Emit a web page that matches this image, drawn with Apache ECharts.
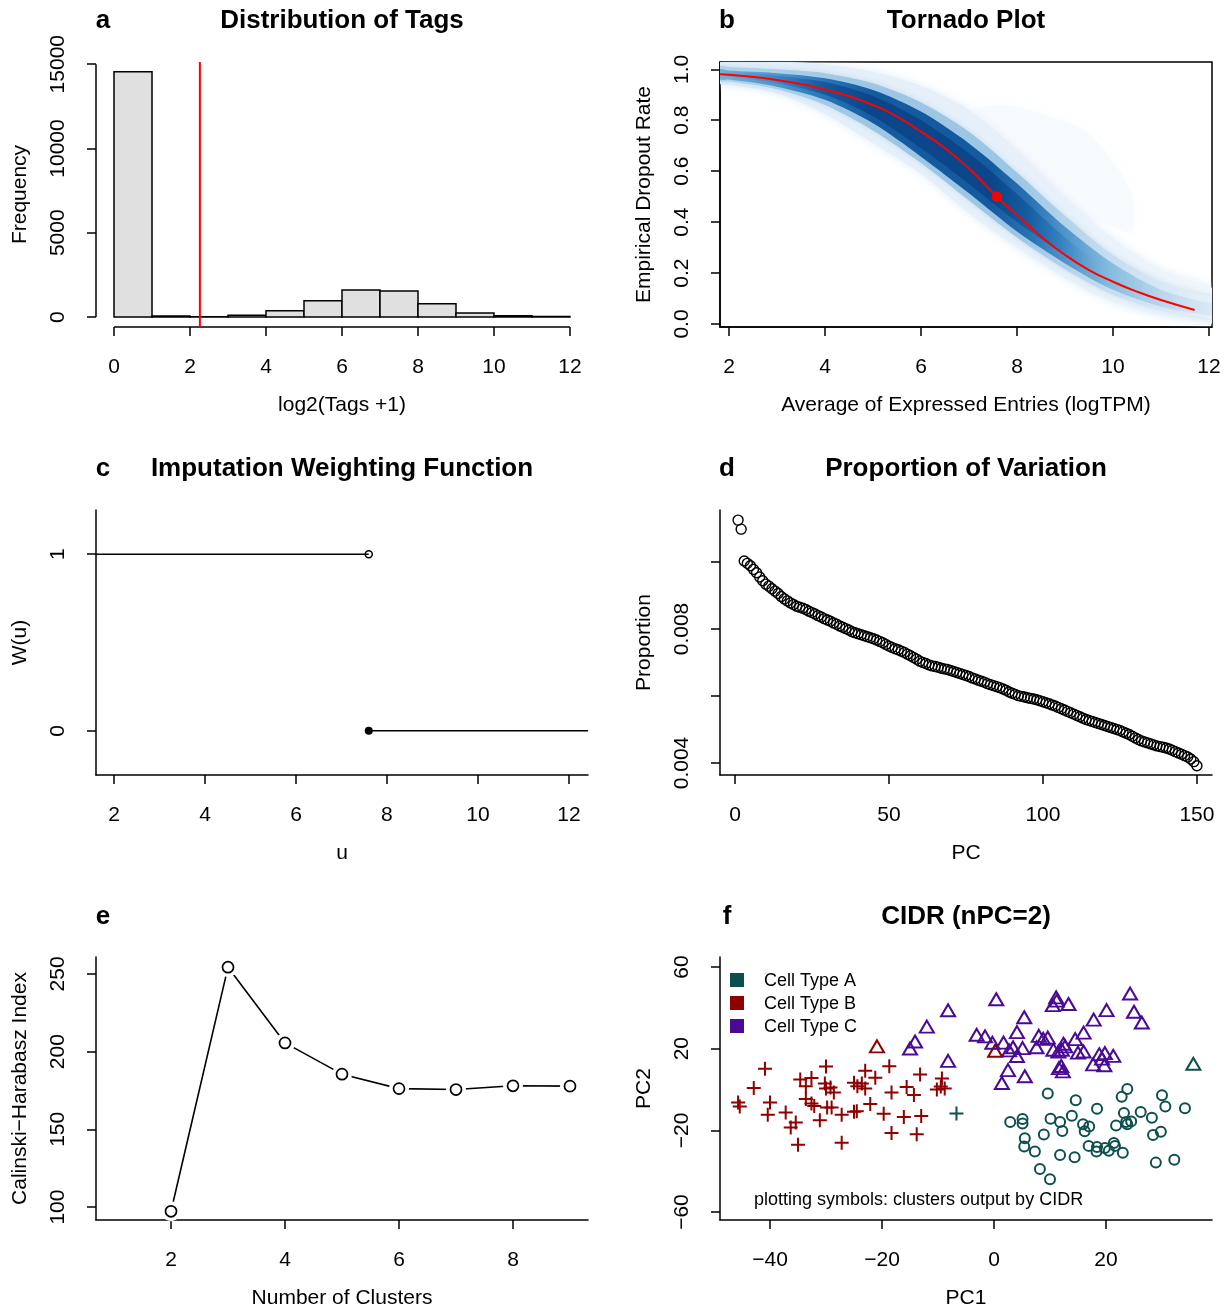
<!DOCTYPE html>
<html><head><meta charset="utf-8">
<script src="https://cdn.jsdelivr.net/npm/echarts@6/dist/echarts.min.js"></script>
<style>html,body{margin:0;padding:0;background:#fff}#c{width:1228px;height:1310px}</style>
</head><body><div id="c"></div>
<script>
// ---------- DATA ----------
// a: histogram of log2(Tags+1)
const histBinStart = [0,1,2,3,4,5,6,7,8,9,10,11];
const histCounts = [14556,60,20,100,370,960,1610,1540,790,240,80,30];
const tagThreshold = 2.26;

// b: tornado plot - fitted dropout curve
const dropCurveX = [1.81,2,3,4,5,5.5,6,6.5,7,7.58,8,8.5,9,9.5,10,10.5,11,11.7];
const dropCurveY = [0.981,0.979,0.958,0.921,0.86,0.814,0.755,0.69,0.611,0.5,0.428,0.343,0.271,0.212,0.166,0.127,0.094,0.055];
const dropMidX = 7.58, dropMidY = 0.5;
// b: density band contours
const bandX   = [1.81, 2,    3,    4,    5,    6,    7,    8,    9,    10,   11,   11.8, 12.06];
const outerHi = [1.03, 1.03, 1.03, 1.02, 0.99, 0.935,0.84, 0.685,0.50, 0.335,0.215,0.16, 0.14];
const outerLo = [0.945,0.939,0.905,0.825,0.71, 0.59, 0.435,0.30, 0.18, 0.085,0.032,0.008,0.003];
const midHi   = [1.012,1.009,1.0,  0.985,0.945,0.87, 0.755,0.595,0.425,0.27, 0.165,0.118,0.104];
const midLo   = [0.955,0.952,0.922,0.86, 0.76, 0.632,0.485,0.34, 0.215,0.115,0.055,0.028,0.022];
const coreHi  = [1.0,  0.995,0.985,0.965,0.919,0.834,0.709,0.552,0.382,0.238,0.134,0.09, 0.08];
const coreLo  = [0.96, 0.96, 0.932,0.88, 0.788,0.657,0.513,0.363,0.238,0.134,0.068,0.04, 0.035];
const innerHi = [0.995,0.99, 0.975,0.95, 0.895,0.80, 0.67, 0.51, 0.34, 0.20, 0.10, 0.065,0.06];
const innerLo = [0.97, 0.97, 0.945,0.90, 0.815,0.69, 0.55, 0.40, 0.27, 0.16, 0.085,0.05, 0.045];
const hazeX  = [7.0, 7.8, 8.6, 9.4, 10.0, 10.4];
const hazeHi = [0.84,0.86,0.82,0.76,0.64, 0.50];
const hazeLo = [0.80,0.62,0.50,0.42,0.38, 0.36];

// c: weighting function
const wThreshold = 7.6;
const wLeftX = [1.6, 7.6],  wLeftY = [1, 1];
const wRightX = [7.6, 12.42], wRightY = [0, 0];

// d: proportion of variation per PC
const pcProportion = [0.01125,0.01098,0.01003,0.00996,0.00989,0.00978,0.00968,0.00955,0.00944,0.00934,
0.00928,0.00920,0.00913,0.00906,0.00897,0.00890,0.00884,0.00878,0.00873,0.00868,
0.00865,0.00862,0.00858,0.00853,0.00849,0.00845,0.00840,0.00836,0.00831,0.00827,
0.00823,0.00818,0.00814,0.00809,0.00805,0.00801,0.00797,0.00792,0.00789,0.00786,
0.00783,0.00780,0.00777,0.00774,0.00771,0.00767,0.00763,0.00759,0.00754,0.00749,
0.00745,0.00741,0.00738,0.00734,0.00730,0.00725,0.00720,0.00715,0.00710,0.00704,
0.00700,0.00697,0.00693,0.00690,0.00688,0.00686,0.00683,0.00681,0.00679,0.00676,
0.00673,0.00670,0.00667,0.00664,0.00661,0.00658,0.00654,0.00651,0.00647,0.00644,
0.00641,0.00637,0.00634,0.00631,0.00628,0.00625,0.00621,0.00617,0.00612,0.00608,
0.00605,0.00601,0.00599,0.00597,0.00595,0.00593,0.00591,0.00589,0.00586,0.00583,
0.00580,0.00577,0.00573,0.00570,0.00566,0.00562,0.00558,0.00554,0.00550,0.00546,
0.00542,0.00538,0.00534,0.00530,0.00527,0.00524,0.00521,0.00518,0.00515,0.00512,
0.00509,0.00506,0.00503,0.00500,0.00497,0.00493,0.00489,0.00485,0.00480,0.00475,
0.00470,0.00466,0.00463,0.00460,0.00457,0.00454,0.00451,0.00449,0.00447,0.00445,
0.00442,0.00438,0.00434,0.00430,0.00426,0.00422,0.00418,0.00412,0.00404,0.00392];

// e: Calinski-Harabasz index
const nClusters = [2,3,4,5,6,7,8,9];
const chIndex = [97.3,254.3,205.6,185.5,176.2,175.6,178.0,177.8];

// f: CIDR PC1/PC2 by cell type (colour) and cluster (symbol)
const typeA_circle = [[9.6,-1.9],[14.6,-5.3],[18.4,-9.4],[23.8,0.2],[22.8,-3.6],[30.0,-2.8],[30.6,-8.3],[34.1,-9.2],[2.9,-15.9],[5.1,-14.4],[5.1,-16.7],[10.1,-14.3],[11.8,-15.9],[13.9,-12.8],[12.2,-20.3],[8.9,-22.0],[5.5,-23.9],[5.4,-27.9],[7.3,-30.3],[15.9,-17.0],[17.0,-18.1],[16.2,-20.4],[21.8,-17.6],[23.2,-11.5],[23.6,-15.9],[24.5,-15.6],[23.8,-17.0],[26.2,-11.0],[28.2,-13.8],[28.4,-22.3],[29.8,-20.7],[16.9,-27.6],[18.4,-28.2],[18.3,-30.4],[19.8,-28.6],[20.5,-30.0],[21.4,-26.2],[21.6,-27.6],[23.0,-31.0],[11.8,-32.1],[14.4,-33.2],[8.2,-38.9],[10.0,-44.0],[28.9,-35.8],[32.2,-34.4]];
const typeA_cross = [[-6.7,-11.7]];
const typeA_tri = [[35.6,12.6]];
const typeB_cross = [[-40.9,10.2],[-42.9,0.7],[-45.7,-6.3],[-45.4,-8.3],[-40.0,-6.3],[-40.4,-12.4],[-37.2,-11.2],[-36.3,-18.6],[-35.4,-16.2],[-35.0,-27.0],[-34.6,4.9],[-32.6,5.6],[-33.6,1.6],[-30.0,11.3],[-30.2,2.9],[-30.0,0.5],[-29.2,1.0],[-28.6,-1.5],[-33.6,-4.7],[-32.6,-6.8],[-32.1,-8.1],[-31.1,-15.1],[-29.8,-8.8],[-29.0,-8.8],[-27.2,-12.4],[-27.2,-26.1],[-23.0,9.2],[-21.2,5.8],[-25.0,3.3],[-24.4,1.6],[-23.6,2.9],[-23.0,0.5],[-24.5,-10.6],[-25.0,-10.9],[-22.1,-7.1],[-19.7,-11.9],[-18.7,11.4],[-18.3,-1.5],[-18.3,-21.3],[-16.1,-13.4],[-15.6,1.2],[-14.3,-2.7],[-13.2,7.3],[-13.0,-13.0],[-13.8,-21.9],[-10.2,0.0],[-9.3,5.4],[-8.8,0.5],[-9.5,1.5]];
const typeB_tri = [[-20.9,21.1],[0.2,19.0]];
const typeC_tri = [[-8.2,38.8],[-12.0,30.8],[-14.1,23.5],[-15.0,20.1],[-8.2,14.0],[-3.1,26.8],[-1.6,26.0],[-0.3,22.9],[0.4,44.2],[1.7,23.0],[2.7,19.2],[3.4,20.7],[4.1,28.1],[5.4,35.4],[4.1,16.4],[5.1,20.3],[2.5,9.5],[1.4,3.2],[5.5,6.5],[7.6,20.7],[8.0,26.3],[8.8,24.8],[9.6,25.4],[11.1,45.1],[11.2,43.5],[10.5,41.3],[13.3,41.9],[10.6,19.5],[11.5,18.6],[12.4,22.4],[12.7,21.1],[12.1,19.5],[11.6,10.5],[12.3,8.9],[12.0,11.5],[14.5,24.7],[16.0,27.9],[15.0,18.1],[16.0,18.6],[17.8,34.2],[20.1,38.9],[18.8,17.3],[19.3,15.1],[17.7,12.3],[19.7,11.9],[19.8,17.8],[21.3,16.5],[24.3,47.0],[25.0,38.1],[26.4,32.8]];
const cellTypes = ['Cell Type A','Cell Type B','Cell Type C'];

// ---------- STYLE ----------
const FONT = "'Liberation Sans', Arial, Helvetica, sans-serif";
const colA = '#0d4f4d', colB = '#8f0000', colC = '#4a0a96';
const FS = 21;

const grids = [
  {left:96, top:62, width:492, height:265},
  {left:720, top:62, width:492, height:265, show:true, borderColor:'#000', borderWidth:1.5, backgroundColor:'transparent'},
  {left:96, top:510, width:492, height:265},
  {left:720, top:510, width:492, height:265},
  {left:96, top:957, width:492, height:265},
  {left:720, top:957, width:492, height:265}
];
const minus = v => String(v).replace('-', '\u2212');
function axis(isX, gi, min, max, ticks, labels, name, fmt, showLine) {
  return {
    type:'value', gridIndex:gi, min:min, max:max, position: isX?'bottom':'left',
    name:name, nameLocation:'middle', nameGap: isX?68:65,
    nameTextStyle:{fontFamily:FONT, fontSize:FS, color:'#000'},
    axisLine:{show: showLine!==false, onZero:false, lineStyle:{color:'#000', width:1.5}},
    axisTick:{show:true, length:9, customValues:ticks, lineStyle:{color:'#000', width:1.5}},
    axisLabel:{customValues:labels, rotate: isX?0:90, margin: isX?30:27, fontFamily:FONT, fontSize:FS, color:'#000', formatter: fmt || (v=>minus(v))},
    splitLine:{show:false}
  };
}
const aXmin=-0.474, aXmax=12.474, aYmin=-590, aYmax=15130;
const xAxes = [
  axis(true,0,aXmin,aXmax,[0,2,4,6,8,10,12],[0,2,4,6,8,10,12],'log2(Tags +1)',null,false),
  axis(true,1,1.8125,12.0625,[2,4,6,8,10,12],[2,4,6,8,10,12],'Average of Expressed Entries (logTPM)'),
  axis(true,2,1.604,12.42,[2,4,6,8,10,12],[2,4,6,8,10,12],'u'),
  axis(true,3,-4.87,154.9,[0,50,100,150],[0,50,100,150],'PC'),
  axis(true,4,0.684,9.316,[2,4,6,8],[2,4,6,8],'Number of Clusters'),
  axis(true,5,-48.93,38.93,[-40,-20,0,20],[-40,-20,0,20],'PC1')
];
const yAxes = [
  axis(false,0,aYmin,aYmax,[0,5000,10000,15000],[0,5000,10000,15000],'Frequency',null,false),
  axis(false,1,-0.0118,1.0287,[0,0.2,0.4,0.6,0.8,1.0],[0,0.2,0.4,0.6,0.8,1.0],'Empirical Dropout Rate',v=>v.toFixed(1)),
  axis(false,2,-0.25,1.25,[0,1],[0,1],'W(u)'),
  axis(false,3,0.003642,0.011552,[0.004,0.006,0.008,0.010],[0.004,0.008],'Proportion',v=>v.toFixed(3)),
  axis(false,4,91.7,260.85,[100,150,200,250],[100,150,200,250],'Calinski\u2212Harabasz Index'),
  axis(false,5,-63.9,64.9,[-60,-20,20,60],[-60,-20,20,60],'PC2')
];

const G = echarts.graphic;
const bandLevels = [
  {x:hazeX, hi:hazeHi, lo:hazeLo, fill:'rgba(232,241,250,0.22)', blur:22, sc:'rgba(232,241,250,0.7)'},
  {x:bandX, hi:outerHi, lo:outerLo, fill:new G.LinearGradient(0,0,1,0,[{offset:0,color:'#e2eef9'},{offset:0.7,color:'#e8f1fa'},{offset:1,color:'#f0f6fc'}]), blur:10, sc:'rgba(226,238,249,1)'},
  {x:bandX, hi:midHi, lo:midLo, fill:new G.LinearGradient(0,0,1,0,[{offset:0,color:'#b4d3ea'},{offset:0.3,color:'#9cc6e3'},{offset:0.6,color:'#9cc6e3'},{offset:0.78,color:'#c3dcef'},{offset:0.9,color:'#d9e8f5'},{offset:1,color:'#e8f1fa'}]), blur:6, sc:'rgba(190,216,236,0.8)'},
  {x:bandX, hi:coreHi, lo:coreLo, fill:new G.LinearGradient(0,0,1,0,[{offset:0,color:'#74b0d9'},{offset:0.116,color:'#4f96cc'},{offset:0.213,color:'#2a75b7'},{offset:0.311,color:'#145a9f'},{offset:0.55,color:'#145a9f'},{offset:0.63,color:'#2a72b4'},{offset:0.70,color:'#4f94ca'},{offset:0.80,color:'#8abfe0'},{offset:0.9,color:'#bcd8ed'},{offset:1,color:'#dceaf6'}]), blur:0, sc:'rgba(0,0,0,0)'},
  {x:bandX, hi:innerHi, lo:innerLo, fill:new G.LinearGradient(0,0,1,0,[{offset:0,color:'rgba(60,140,200,0)'},{offset:0.116,color:'rgba(40,115,185,0.45)'},{offset:0.213,color:'#15589d'},{offset:0.311,color:'#0a4689'},{offset:0.55,color:'#0a4689'},{offset:0.62,color:'#145a9f'},{offset:0.70,color:'rgba(40,120,190,0.5)'},{offset:0.78,color:'rgba(100,170,215,0)'},{offset:1,color:'rgba(100,170,215,0)'}]), blur:0, sc:'rgba(0,0,0,0)'}
];

const plusPath = 'path://M0,6L14,6L14,8L0,8Z M6,0L8,0L8,14L6,14Z';
function sc(gi, name, data, symbol, size, color, filled, extra) {
  return Object.assign({
    type:'scatter', name:name, xAxisIndex:gi, yAxisIndex:gi, data:data, symbol:symbol, symbolSize:size,
    itemStyle: filled ? {color:color, opacity:1} : {color:'rgba(0,0,0,0)', borderColor:color, borderWidth:2, opacity:1},
    emphasis:{disabled:true}, silent:true
  }, extra||{});
}

const series = [
  // a
  {type:'custom', xAxisIndex:0, yAxisIndex:0, silent:true,
   data: histBinStart.map((s,i)=>[s, s+1, histCounts[i]]),
   renderItem:(p,api)=>{const a=api.coord([api.value(0),0]); const b=api.coord([api.value(1),api.value(2)]);
     return {type:'rect', shape:{x:a[0], y:b[1], width:b[0]-a[0], height:a[1]-b[1]}, style:{fill:'#e0e0e0', stroke:'#000', lineWidth:1.5}};}},
  {type:'custom', xAxisIndex:0, yAxisIndex:0, silent:true,
   data:[[0,aYmin,12,aYmin],[aXmin,0,aXmin,15000]],
   renderItem:(p,api)=>{const a=api.coord([api.value(0),api.value(1)]); const b=api.coord([api.value(2),api.value(3)]);
     return {type:'line', shape:{x1:a[0],y1:a[1],x2:b[0],y2:b[1]}, style:{stroke:'#000', lineWidth:1.5}};}},
  {type:'line', xAxisIndex:0, yAxisIndex:0, data:[[tagThreshold,aYmin],[tagThreshold,aYmax]], symbol:'none', lineStyle:{color:'#ff0000', width:2}, silent:true},
  // b
  {type:'custom', xAxisIndex:1, yAxisIndex:1, silent:true, clip:true,
   data: bandLevels.map((l,i)=>[i]),
   renderItem:(p,api)=>{const L=bandLevels[p.dataIndex]; const pts=[];
     for(let i=0;i<L.x.length;i++) pts.push(api.coord([L.x[i], L.hi[i]]));
     for(let i=L.x.length-1;i>=0;i--) pts.push(api.coord([L.x[i], L.lo[i]]));
     return {type:'polygon', shape:{points:pts, smooth:0.3}, style:{fill:L.fill, shadowBlur:L.blur, shadowColor:L.sc}};}},
  {type:'line', xAxisIndex:1, yAxisIndex:1, data: dropCurveX.map((x,i)=>[x, dropCurveY[i]]), smooth:0.5, symbol:'none', lineStyle:{color:'#ff0000', width:2}, silent:true},
  sc(1, 'mid', [[dropMidX, dropMidY]], 'circle', 10, '#ff0000', true),
  // c
  {type:'line', xAxisIndex:2, yAxisIndex:2, data: wLeftX.map((x,i)=>[x,wLeftY[i]]), symbol:'none', lineStyle:{color:'#000', width:1.5}, silent:true},
  {type:'line', xAxisIndex:2, yAxisIndex:2, data: wRightX.map((x,i)=>[x,wRightY[i]]), symbol:'none', lineStyle:{color:'#000', width:1.5}, silent:true},
  sc(2, 'open', [[wThreshold,1]], 'circle', 7, '#000', false, {itemStyle:{color:'#fff', borderColor:'#000', borderWidth:1.5, opacity:1}}),
  sc(2, 'closed', [[wThreshold,0]], 'circle', 8, '#000', true),
  // d
  sc(3, 'pc', pcProportion.map((v,i)=>[i+1, v]), 'circle', 10, '#000', false, {itemStyle:{color:'rgba(0,0,0,0)', borderColor:'#000', borderWidth:1.4, opacity:1}}),
  // e
  {type:'line', xAxisIndex:4, yAxisIndex:4, data: nClusters.map((k,i)=>[k, chIndex[i]]), symbol:'none', lineStyle:{color:'#000', width:1.6}, silent:true, z:2},
  sc(4, 'gap', nClusters.map((k,i)=>[k, chIndex[i]]), 'circle', 20, '#fff', true, {z:3}),
  sc(4, 'ch', nClusters.map((k,i)=>[k, chIndex[i]]), 'circle', 11, '#000', false, {z:4, itemStyle:{color:'rgba(0,0,0,0)', borderColor:'#000', borderWidth:1.7, opacity:1}}),
  // f
  sc(5, cellTypes[0], typeA_circle, 'circle', 10, colA, false),
  sc(5, cellTypes[0], typeA_cross, plusPath, 14, colA, true),
  sc(5, cellTypes[0], typeA_tri, 'triangle', [14,12], colA, false),
  sc(5, cellTypes[1], typeB_cross, plusPath, 14, colB, true),
  sc(5, cellTypes[1], typeB_tri, 'triangle', [14,12], colB, false),
  sc(5, cellTypes[2], typeC_tri, 'triangle', [14,12], colC, false)
];

function txt(x, y, text, size, bold, align) {
  return {type:'text', x:x, y:y, silent:true, style:{text:text, fontFamily:FONT, fontSize:size, fontWeight: bold?'bold':'normal', fill:'#000', align: align||'center', verticalAlign:'middle'}};
}
const graphics = [
  txt(103,21,'a',26,true), txt(342,21,'Distribution of Tags',26,true),
  txt(727,21,'b',26,true), txt(966,21,'Tornado Plot',26,true),
  txt(103,469,'c',26,true), txt(342,469,'Imputation Weighting Function',26,true),
  txt(727,469,'d',26,true), txt(966,469,'Proportion of Variation',26,true),
  txt(103,917,'e',26,true),
  txt(727,917,'f',26,true), txt(966,917,'CIDR (nPC=2)',26,true),
  txt(754,1200,'plotting symbols: clusters output by CIDR',18,false,'left')
];
[colA,colB,colC].forEach((c,i)=>{
  graphics.push({type:'rect', silent:true, shape:{x:730, y:973+23*i, width:14, height:14}, style:{fill:c}});
  graphics.push(txt(764, 981+23*i, cellTypes[i], 18, false, 'left'));
});

const chart = echarts.init(document.getElementById('c'), null, {renderer:'canvas'});
chart.setOption({
  animation:false,
  backgroundColor:'#fff',
  textStyle:{fontFamily:FONT},
  grid:grids, xAxis:xAxes, yAxis:yAxes, series:series, graphic:graphics
});
</script></body></html>
